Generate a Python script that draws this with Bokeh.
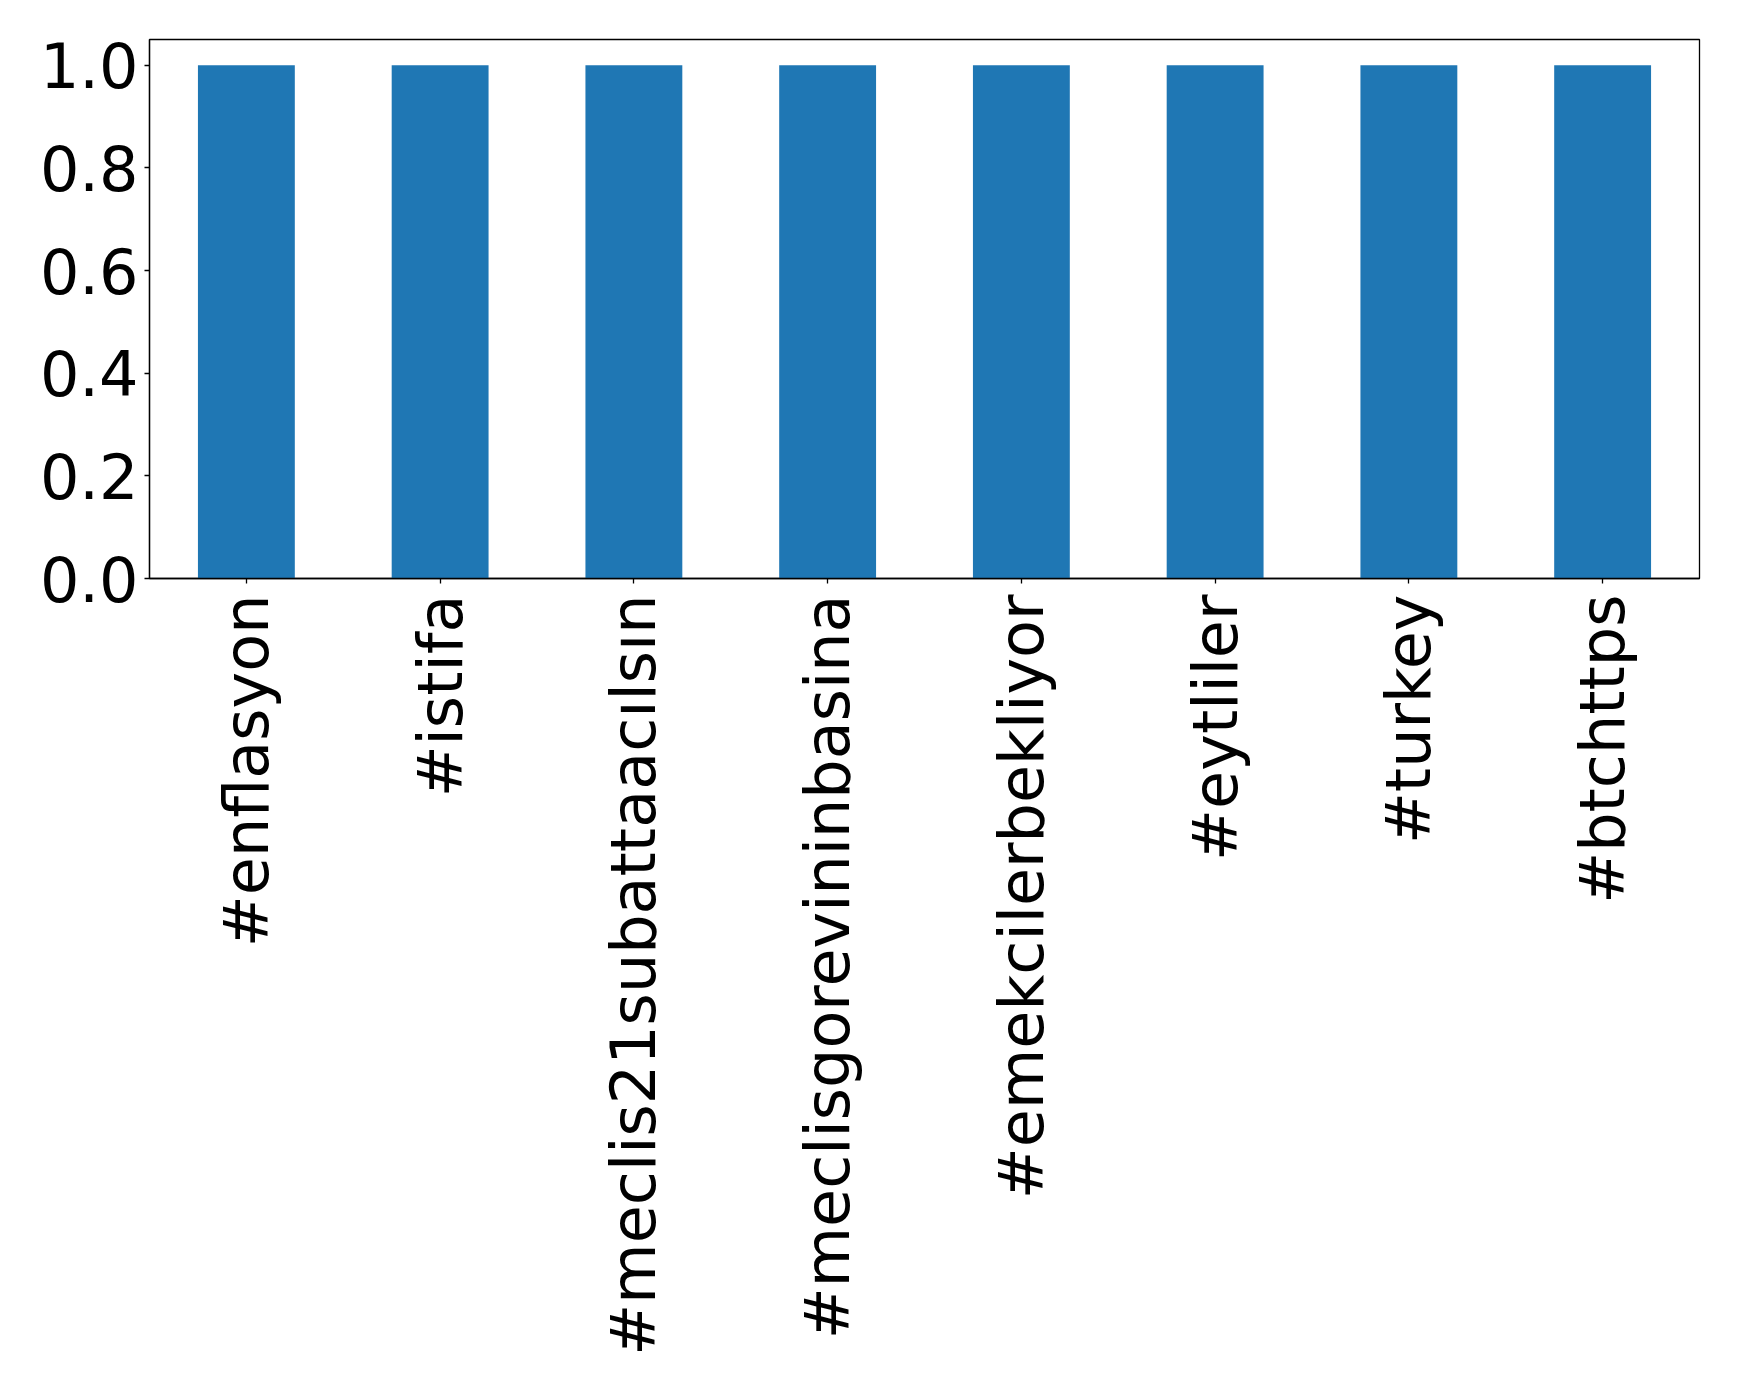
from bokeh.plotting import figure
from bokeh.models import FactorRange, Range1d, FixedTicker, NumeralTickFormatter
from bokeh.embed import file_html
from bokeh.resources import INLINE
import math

categories = ["#enflasyon", "#istifa", "#meclis21subattaacılsın", "#meclisgorevininbasina",
              "#emekcilerbekliyor", "#eytliler", "#turkey", "#btchttps"]
values = [1, 1, 1, 1, 1, 1, 1, 1]
y_ticks = [0.0, 0.2, 0.4, 0.6, 0.8, 1.0]

p = figure(x_range=FactorRange(*categories, range_padding=0), y_range=Range1d(0, 1.05),
           frame_width=1550, frame_height=539,
           min_border_left=149, min_border_top=39, min_border_right=32, min_border_bottom=20,
           output_backend="svg", toolbar_location=None)

p.vbar(x=categories, top=values, width=0.5, color="#1f77b4", line_color=None)

p.xgrid.visible = False
p.ygrid.visible = False
p.outline_line_color = "black"
p.outline_line_width = 1.3

for ax in (p.xaxis, p.yaxis):
    ax.axis_line_color = "black"
    ax.axis_line_width = 1.3
    ax.major_tick_line_color = "black"
    ax.major_tick_line_width = 1.3
    ax.major_tick_in = 0
    ax.major_tick_out = 5
    ax.minor_tick_line_color = None
    ax.major_label_text_font = "DejaVu Sans"
    ax.major_label_text_font_size = "62px"
    ax.major_label_text_color = "black"

p.yaxis.ticker = FixedTicker(ticks=y_ticks)
p.yaxis.formatter = NumeralTickFormatter(format="0.0")
p.yaxis.major_label_standoff = 6
p.xaxis.major_label_orientation = math.pi / 2
p.xaxis.major_label_standoff = 11
p.xaxis.group_text_font_size = "0px"

open("out.html", "w").write(file_html(p, INLINE))
